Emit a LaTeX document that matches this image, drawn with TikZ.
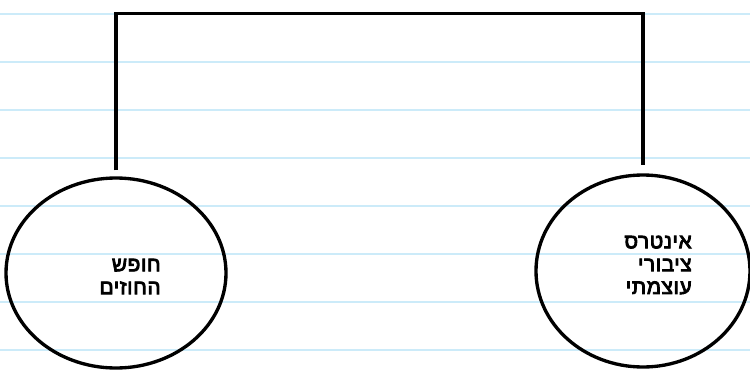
\documentclass[tikz,border=0pt]{standalone}
\usepackage{fontspec}
\usepackage{tikz}
\usetikzlibrary{positioning, calc, shapes.geometric}
\newfontfamily\hebfont[Script=Hebrew, FakeBold=4, LetterSpace=3]{Liberation Sans}
\TeXXeTstate=1
\definecolor{NoteLine}{HTML}{CCEBF9}
\tikzset{
  bubble/.style={ellipse, draw=black, line width=1.9pt, inner sep=0pt},
  bubbletext/.style={font=\hebfont\fontsize{11.8}{13}\selectfont, align=right, inner sep=0pt, anchor=east},
  link/.style={draw=black, line width=1.9pt}
}

\begin{document}
\begin{tikzpicture}
      \useasboundingbox (0,0) rectangle (15,7.38);
      \fill[white] (0,0) rectangle (15,7.38);
      %% Notebook lines
      \foreach \i in {0,...,7}
        \draw[NoteLine, line width=0.6pt] (0,7.10-0.96*\i) -- (15,7.10-0.96*\i);
      %% Bubbles
      \node[bubble, minimum width=4.4cm, minimum height=3.8cm] (freedom) at (2.32,1.92) {};
      \node[bubble, minimum width=4.28cm, minimum height=3.84cm] (interest) at (12.86,1.96) {};
      \node[bubbletext] (freedomtext) at (3.22,1.85) {\beginR חופש\endR\\\beginR החוזים\endR};
      \node[bubbletext] (interesttext) at (13.84,2.08) {\beginR אינטרס\endR\\\beginR ציבורי\endR\\\beginR עוצמתי\endR};
      %% Bracket between the two
      \coordinate (bracket) at (7,7.114);
      \draw[link, shorten <=0.12cm, shorten >=0.16cm] (freedom.north) |- (bracket) -| (interest.north);
    \end{tikzpicture}
\end{document}
